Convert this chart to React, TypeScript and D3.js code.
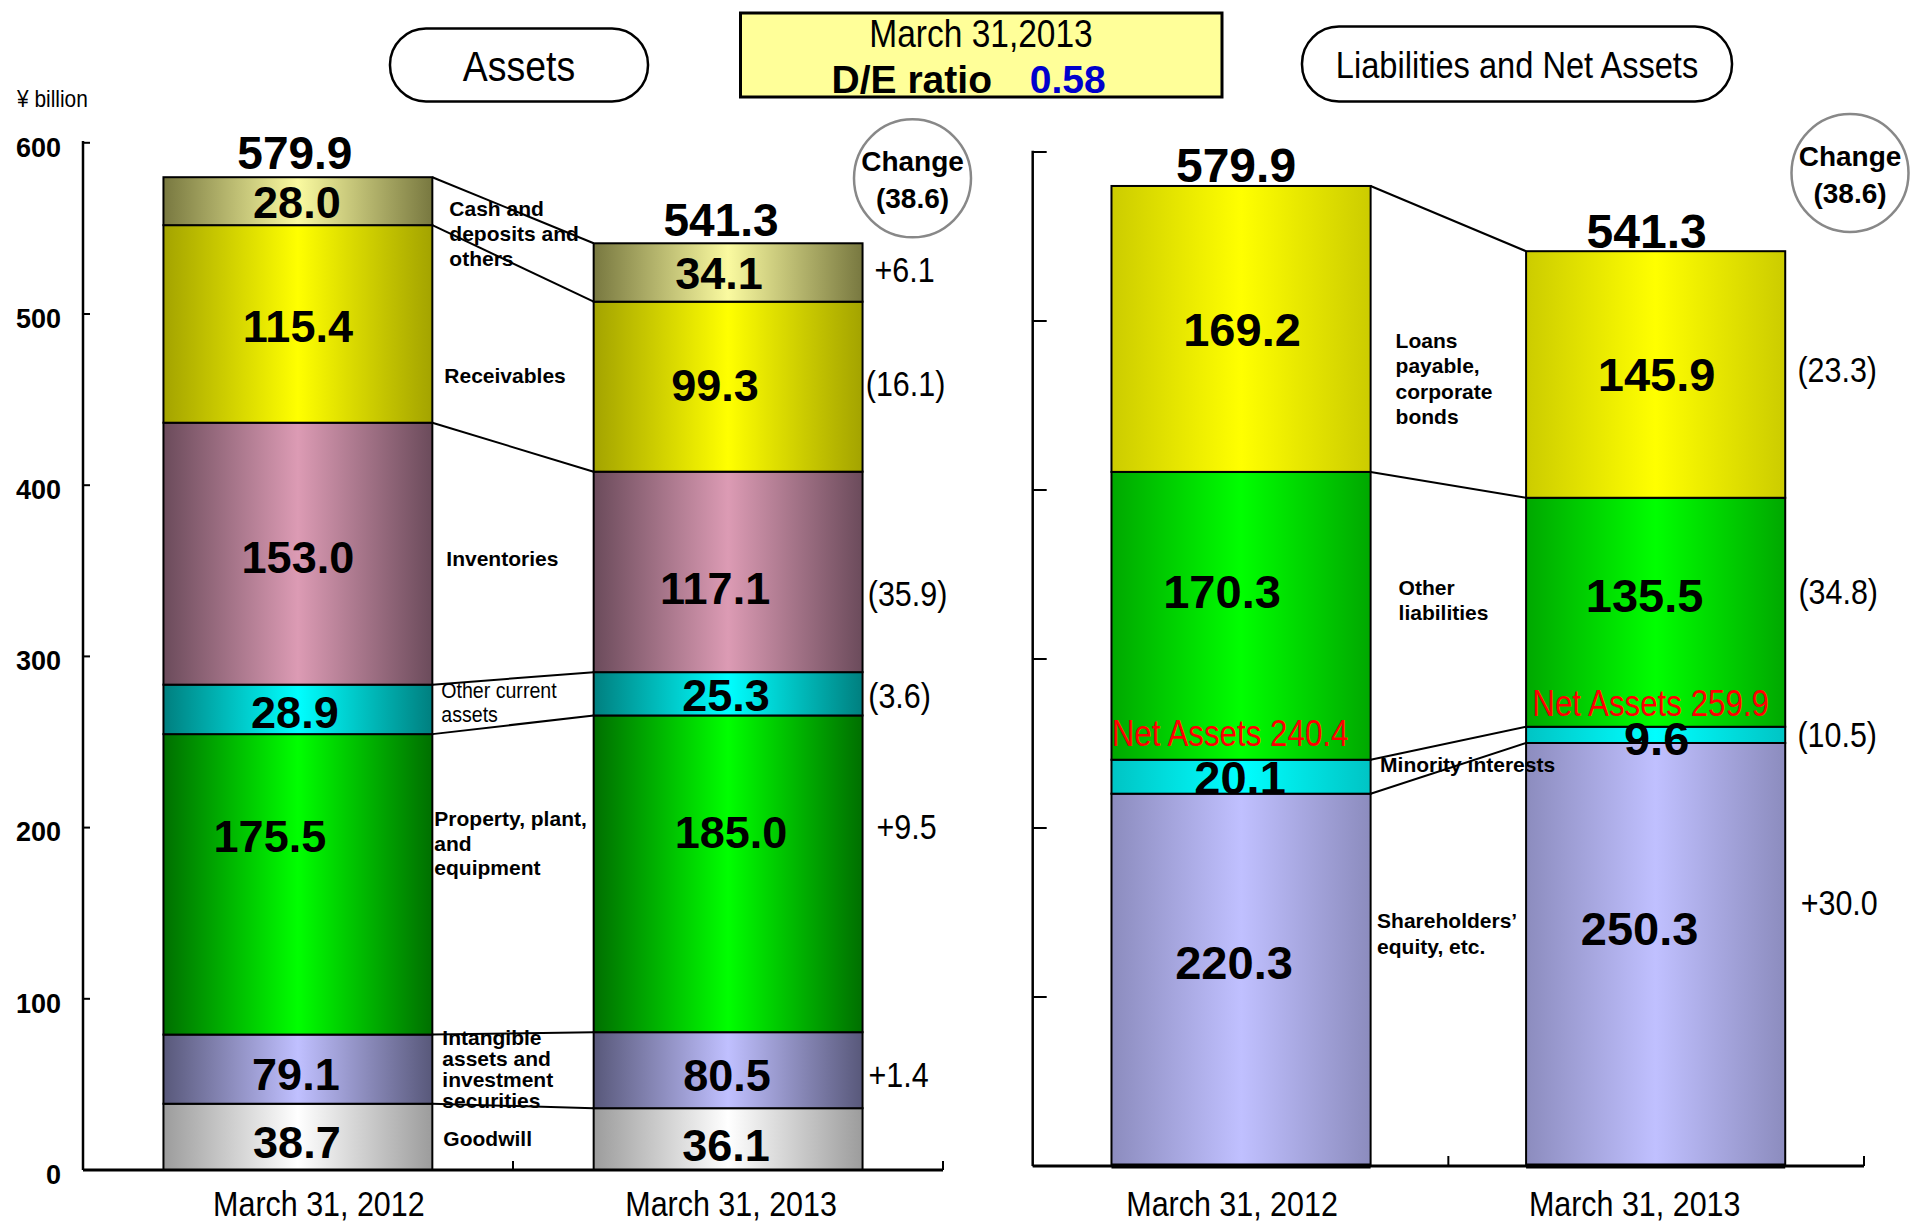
import React from "react";
import * as d3 from "d3";

// ---------------- data ----------------
const periods = ["March 31, 2012", "March 31, 2013"];

const assetItems = [
  "Goodwill",
  "Intangible assets and investment securities",
  "Property, plant, and equipment",
  "Other current assets",
  "Inventories",
  "Receivables",
  "Cash and deposits and others",
];
const assets2012 = [38.7, 40.4, 175.5, 28.9, 153.0, 115.4, 28.0];
const assets2013 = [36.1, 44.4, 185.0, 25.3, 117.1, 99.3, 34.1];
const assetChanges: (number | null)[] = [null, 1.4, 9.5, -3.6, -35.9, -16.1, 6.1];
const assetTotals = [579.9, 541.3];
const assetLines = [
  ["Goodwill"],
  ["Intangible", "assets and", "investment", "securities"],
  ["Property, plant,", "and", "equipment"],
  ["Other current", "assets"],
  ["Inventories"],
  ["Receivables"],
  ["Cash and", "deposits and", "others"],
];

const liabItems = [
  "Shareholders’ equity, etc.",
  "Minority interests",
  "Other liabilities",
  "Loans payable, corporate bonds",
];
const liab2012 = [220.3, 20.1, 170.3, 169.2];
const liab2013 = [250.3, 9.6, 135.5, 145.9];
const liabChanges: (number | null)[] = [30.0, -10.5, -34.8, -23.3];
const liabTotals = [579.9, 541.3];
const netAssets = [240.4, 259.9];
const liabLines = [
  ["Shareholders’", "equity, etc."],
  ["Minority interests"],
  ["Other", "liabilities"],
  ["Loans", "payable,", "corporate", "bonds"],
];

const totalChange = -38.6;
const deRatio = 0.58;
const reportDate = "March 31,2013";
const yTicks = [0, 100, 200, 300, 400, 500, 600];

// ---------------- styles / layout ----------------
const FONT = "'Liberation Sans', Arial, Helvetica, sans-serif";
const NARROW = 0.87;

const assetGrad = [
  ["#9c9c9c", "#ffffff"],
  ["#58587a", "#c0c0ff"],
  ["#006f00", "#00ff00"],
  ["#007f7f", "#00ffff"],
  ["#6b4b5b", "#dc9bb4"],
  ["#a3a300", "#ffff00"],
  ["#787840", "#fafaa0"],
];
const liabGrad = [
  ["#8c8cbe", "#c0c0ff"],
  ["#00c4c4", "#00ffff"],
  ["#00a800", "#00ff00"],
  ["#cccc00", "#ffff00"],
];

const fmt = d3.format(".1f");
const fmtChange = (v: number) => (v > 0 ? "+" + fmt(v) : "(" + fmt(-v) + ")");

type Cfg = {
  key: string;
  x0: number;
  x1: number;
  yBottom: number;
  yTop: number;
  padInner: number;
  padOuter: number;
  yTickLen: number;
  xTickLen: number;
  axisTop: number;
  showYLabels: boolean;
  valueFs: number;
  totalFs: number;
  valueNudge: number[][][];
  changeBaseDx: number;
  changeNudge: (number[] | null)[];
  totalNudge: number[][];
  itemLabelNudge: number[][];
  itemLineHeights: number[];
  itemWeights: string[];
  catNudge: number[];
  thickBottom: boolean;
  circle: number[];
};

const leftCfg: Cfg = {
  key: "a",
  x0: 83,
  x1: 943,
  yBottom: 1170,
  yTop: 142.8,
  padInner: 0.375,
  padOuter: 0.187,
  yTickLen: 7,
  xTickLen: 9,
  axisTop: 141,
  showYLabels: true,
  valueFs: 45,
  totalFs: 46,
  valueNudge: [
    [[-1, 5], [-2, 5], [-28, -49], [-3, 2], [0, 3], [0, 2], [-1, 1]],
    [[-2, 6], [-1, 5], [3, -42], [-2, 1], [-13, 16], [-13, -2], [-9, 0]],
  ],
  changeBaseDx: 42,
  changeNudge: [null, [-6, 4], [2, -47], [-5, 1.5], [3, 21], [1, -3], [0, -3]],
  totalNudge: [[-3, -8.5], [-7, -7]],
  itemLabelNudge: [[11, 7.7], [10, -24.5], [2, -53], [9, -3.5], [14, 2.8], [12, 28], [17, -20.5]],
  itemLineHeights: [21, 21, 24.5, 23.5, 21, 21, 25],
  itemWeights: ["bold", "bold", "bold", "normal", "bold", "bold", "bold"],
  catNudge: [21, 3],
  thickBottom: false,
  circle: [912.5, 178.3, 58.5, 59],
};

const rightCfg: Cfg = {
  key: "l",
  x0: 1032.7,
  x1: 1864,
  yBottom: 1166,
  yTop: 152,
  padInner: 0.375,
  padOuter: 0.19,
  yTickLen: 14,
  xTickLen: 10,
  axisTop: 150.7,
  showYLabels: false,
  valueFs: 47,
  totalFs: 48,
  valueNudge: [
    [[-7, -18], [-1, 0], [-19, -25], [1, 0]],
    [[-16, -26], [1, 3], [-11, -17], [1, 0]],
  ],
  changeBaseDx: 52,
  changeNudge: [[2, -52], [0, 0], [1, -21], [0, -5]],
  totalNudge: [[-5, -3.6], [-9, -3]],
  itemLabelNudge: [[6.5, -38.9], [9.5, 16], [28, -19], [25, -3.5]],
  itemLineHeights: [25.7, 25, 25, 25.2],
  itemWeights: ["bold", "bold", "bold", "bold"],
  catNudge: [-9, -21],
  thickBottom: true,
  circle: [1850, 173, 58.5, 59],
};

function NText(props: {
  x: number;
  y: number;
  fs: number;
  anchor?: string;
  weight?: string;
  fill?: string;
  sx?: number;
  children: React.ReactNode;
}) {
  const { x, y, fs, anchor = "middle", weight = "normal", fill = "#000", sx = NARROW } = props;
  return (
    <text
      transform={`translate(${x},${y}) scale(${sx},1)`}
      fontSize={fs}
      fontFamily={FONT}
      fontWeight={weight}
      textAnchor={anchor as any}
      fill={fill}
    >
      {props.children}
    </text>
  );
}

function Panel(props: {
  cfg: Cfg;
  items: string[];
  series: number[][];
  display: number[][];
  changes: (number | null)[];
  totals: number[];
  lines: string[][];
  netAssets?: number[];
}) {
  const { cfg, items, series, display, changes, totals, lines } = props;
  const y = d3.scaleLinear().domain([0, 600]).range([cfg.yBottom, cfg.yTop]);
  const x = d3
    .scaleBand<string>()
    .domain(periods)
    .range([cfg.x0, cfg.x1])
    .paddingInner(cfg.padInner)
    .paddingOuter(cfg.padOuter);
  const bw = x.bandwidth();
  const rows = periods.map((p, j) => {
    const r: any = { period: p };
    items.forEach((k, i) => (r[k] = series[j][i]));
    return r;
  });
  const stacked = d3.stack<any>().keys(items)(rows);
  const xa = x(periods[0])!;
  const xb = x(periods[1])!;
  const midTick = (xa + bw + xb) / 2;

  return (
    <g>
      {stacked.map((s, i) =>
        s.map((d, j) => (
          <rect
            key={`${cfg.key}-b-${i}-${j}`}
            x={x(periods[j])}
            y={y(d[1])}
            width={bw}
            height={y(d[0]) - y(d[1])}
            fill={`url(#g-${cfg.key}-${i})`}
            stroke="#000"
            strokeWidth={2}
          />
        ))
      )}
      {cfg.thickBottom &&
        periods.map((p) => (
          <line key={p} x1={x(p)} x2={x(p)! + bw} y1={y(0)} y2={y(0)} stroke="#000" strokeWidth={5} />
        ))}

      <line x1={cfg.x0} x2={cfg.x0} y1={cfg.axisTop} y2={y(0)} stroke="#000" strokeWidth={2.5} />
      {yTicks.map((t) => (
        <line key={t} x1={cfg.x0} x2={cfg.x0 + cfg.yTickLen} y1={y(t)} y2={y(t)} stroke="#000" strokeWidth={2} />
      ))}
      {cfg.showYLabels &&
        yTicks.map((t) => (
          <text
            key={"yl" + t}
            x={61}
            y={y(t) + 4 + 0.36 * 27}
            fontSize={27}
            fontWeight="bold"
            fontFamily={FONT}
            textAnchor="end"
          >
            {t}
          </text>
        ))}
      <line x1={cfg.x0} x2={cfg.x1} y1={y(0)} y2={y(0)} stroke="#000" strokeWidth={3} />
      {[midTick, cfg.x1].map((tx, k) => (
        <line key={k} x1={tx} x2={tx} y1={y(0)} y2={y(0) - cfg.xTickLen} stroke="#000" strokeWidth={2} />
      ))}

      {periods.map((p, j) => (
        <NText key={p} x={x(p)! + bw / 2 + cfg.catNudge[j]} y={1216} fs={35}>
          {p}
        </NText>
      ))}

      {lines.map((ls, i) => {
        const m0 = (y(stacked[i][0][0]) + y(stacked[i][0][1])) / 2;
        const m1 = (y(stacked[i][1][0]) + y(stacked[i][1][1])) / 2;
        const [dx, dy] = cfg.itemLabelNudge[i];
        const bx = xa + bw + dx;
        const by = (m0 + m1) / 2 + dy;
        const lh = cfg.itemLineHeights[i];
        if (cfg.itemWeights[i] === "normal") {
          return (
            <g key={"il" + i}>
              {ls.map((t, k) => (
                <NText key={k} x={bx} y={by + k * lh} fs={22.5} anchor="start">
                  {t}
                </NText>
              ))}
            </g>
          );
        }
        return (
          <text key={"il" + i} fontSize={21} fontWeight="bold" fontFamily={FONT}>
            {ls.map((t, k) => (
              <tspan key={k} x={bx} y={by + k * lh}>
                {t}
              </tspan>
            ))}
          </text>
        );
      })}

      {stacked.map((s, i) => (
        <line
          key={"c" + i}
          x1={xa + bw}
          y1={y(s[0][1])}
          x2={xb}
          y2={y(s[1][1])}
          stroke="#000"
          strokeWidth={2}
        />
      ))}

      {stacked.map((s, i) =>
        s.map((d, j) => {
          const [dx, dy] = cfg.valueNudge[j][i];
          const cx = x(periods[j])! + bw / 2 + dx;
          const cy = (y(d[0]) + y(d[1])) / 2 + dy;
          return (
            <text
              key={`v-${i}-${j}`}
              x={cx}
              y={cy + 0.36 * cfg.valueFs}
              fontSize={cfg.valueFs}
              fontWeight="bold"
              fontFamily={FONT}
              textAnchor="middle"
            >
              {fmt(display[j][i])}
            </text>
          );
        })
      )}

      {props.netAssets &&
        props.netAssets.map((v, j) => (
          <NText
            key={"na" + j}
            x={x(periods[j])! + bw / 2 + (j === 0 ? -11 : -5)}
            y={y(v) + (j === 0 ? -27 : -24) + 0.36 * 36}
            fs={36}
            fill="#ff0000"
          >
            {`Net Assets ${fmt(v)}`}
          </NText>
        ))}

      {changes.map((c, i) => {
        if (c === null || !cfg.changeNudge[i]) return null;
        const [dx, dy] = cfg.changeNudge[i] as number[];
        const cy = (y(stacked[i][1][0]) + y(stacked[i][1][1])) / 2 + dy;
        return (
          <NText key={"ch" + i} x={xb + bw + cfg.changeBaseDx + dx} y={cy + 0.36 * 35} fs={35}>
            {fmtChange(c)}
          </NText>
        );
      })}

      {totals.map((t, j) => (
        <text
          key={"t" + j}
          x={x(periods[j])! + bw / 2 + cfg.totalNudge[j][0]}
          y={y(t) + cfg.totalNudge[j][1]}
          fontSize={cfg.totalFs}
          fontWeight="bold"
          fontFamily={FONT}
          textAnchor="middle"
        >
          {fmt(t)}
        </text>
      ))}

      <ellipse
        cx={cfg.circle[0]}
        cy={cfg.circle[1]}
        rx={cfg.circle[2]}
        ry={cfg.circle[3]}
        fill="#fff"
        stroke="#888"
        strokeWidth={2.5}
      />
      <text
        x={cfg.circle[0]}
        y={cfg.circle[1] - 7}
        fontSize={28}
        fontWeight="bold"
        fontFamily={FONT}
        textAnchor="middle"
      >
        Change
      </text>
      <text
        x={cfg.circle[0]}
        y={cfg.circle[1] + 30}
        fontSize={28}
        fontWeight="bold"
        fontFamily={FONT}
        textAnchor="middle"
      >
        {fmtChange(totalChange)}
      </text>
    </g>
  );
}

export default function App() {
  const assetDisplay = [assets2012, assets2013].map((v) => v.map((a, i) => (i === 1 ? v[0] + v[1] : a)));
  const gradDefs = [
    ...assetGrad.map((g, i) => ({ id: `g-a-${i}`, g })),
    ...liabGrad.map((g, i) => ({ id: `g-l-${i}`, g })),
  ];
  return (
    <svg
      width={1910}
      height={1225}
      style={{ position: "absolute", left: 0, top: 0, display: "block", background: "#fff" }}
      fontFamily={FONT}
    >
      <defs>
        {gradDefs.map(({ id, g }) => (
          <linearGradient key={id} id={id} x1="0" x2="1" y1="0" y2="0">
            <stop offset="0" stopColor={g[0]} />
            <stop offset="0.5" stopColor={g[1]} />
            <stop offset="1" stopColor={g[0]} />
          </linearGradient>
        ))}
      </defs>
      <rect x={0} y={0} width={1910} height={1225} fill="#fff" />

      <NText x={17} y={107} fs={24} anchor="start">
        ¥ billion
      </NText>

      <rect x={390} y={28.5} width={258} height={73} rx={36} ry={36} fill="#fff" stroke="#000" strokeWidth={2.5} />
      <NText x={519} y={81} fs={43}>
        Assets
      </NText>
      <rect x={1302} y={26.5} width={430} height={75} rx={37} ry={37} fill="#fff" stroke="#000" strokeWidth={2.5} />
      <NText x={1517} y={77.5} fs={37.5}>
        Liabilities and Net Assets
      </NText>

      <rect x={740.5} y={13} width={481.5} height={84} fill="#ffff99" stroke="#000" strokeWidth={3} />
      <NText x={981} y={46.5} fs={38.5}>
        {reportDate}
      </NText>
      <text x={831.6} y={93} fontSize={39} fontWeight="bold" fontFamily={FONT}>
        D/E ratio
      </text>
      <text x={1029.7} y={93} fontSize={39} fontWeight="bold" fontFamily={FONT} fill="#0000cc">
        {deRatio.toFixed(2)}
      </text>

      <Panel
        cfg={leftCfg}
        items={assetItems}
        series={[assets2012, assets2013]}
        display={assetDisplay}
        changes={assetChanges}
        totals={assetTotals}
        lines={assetLines}
      />
      <Panel
        cfg={rightCfg}
        items={liabItems}
        series={[liab2012, liab2013]}
        display={[liab2012, liab2013]}
        changes={liabChanges}
        totals={liabTotals}
        lines={liabLines}
        netAssets={netAssets}
      />
    </svg>
  );
}
